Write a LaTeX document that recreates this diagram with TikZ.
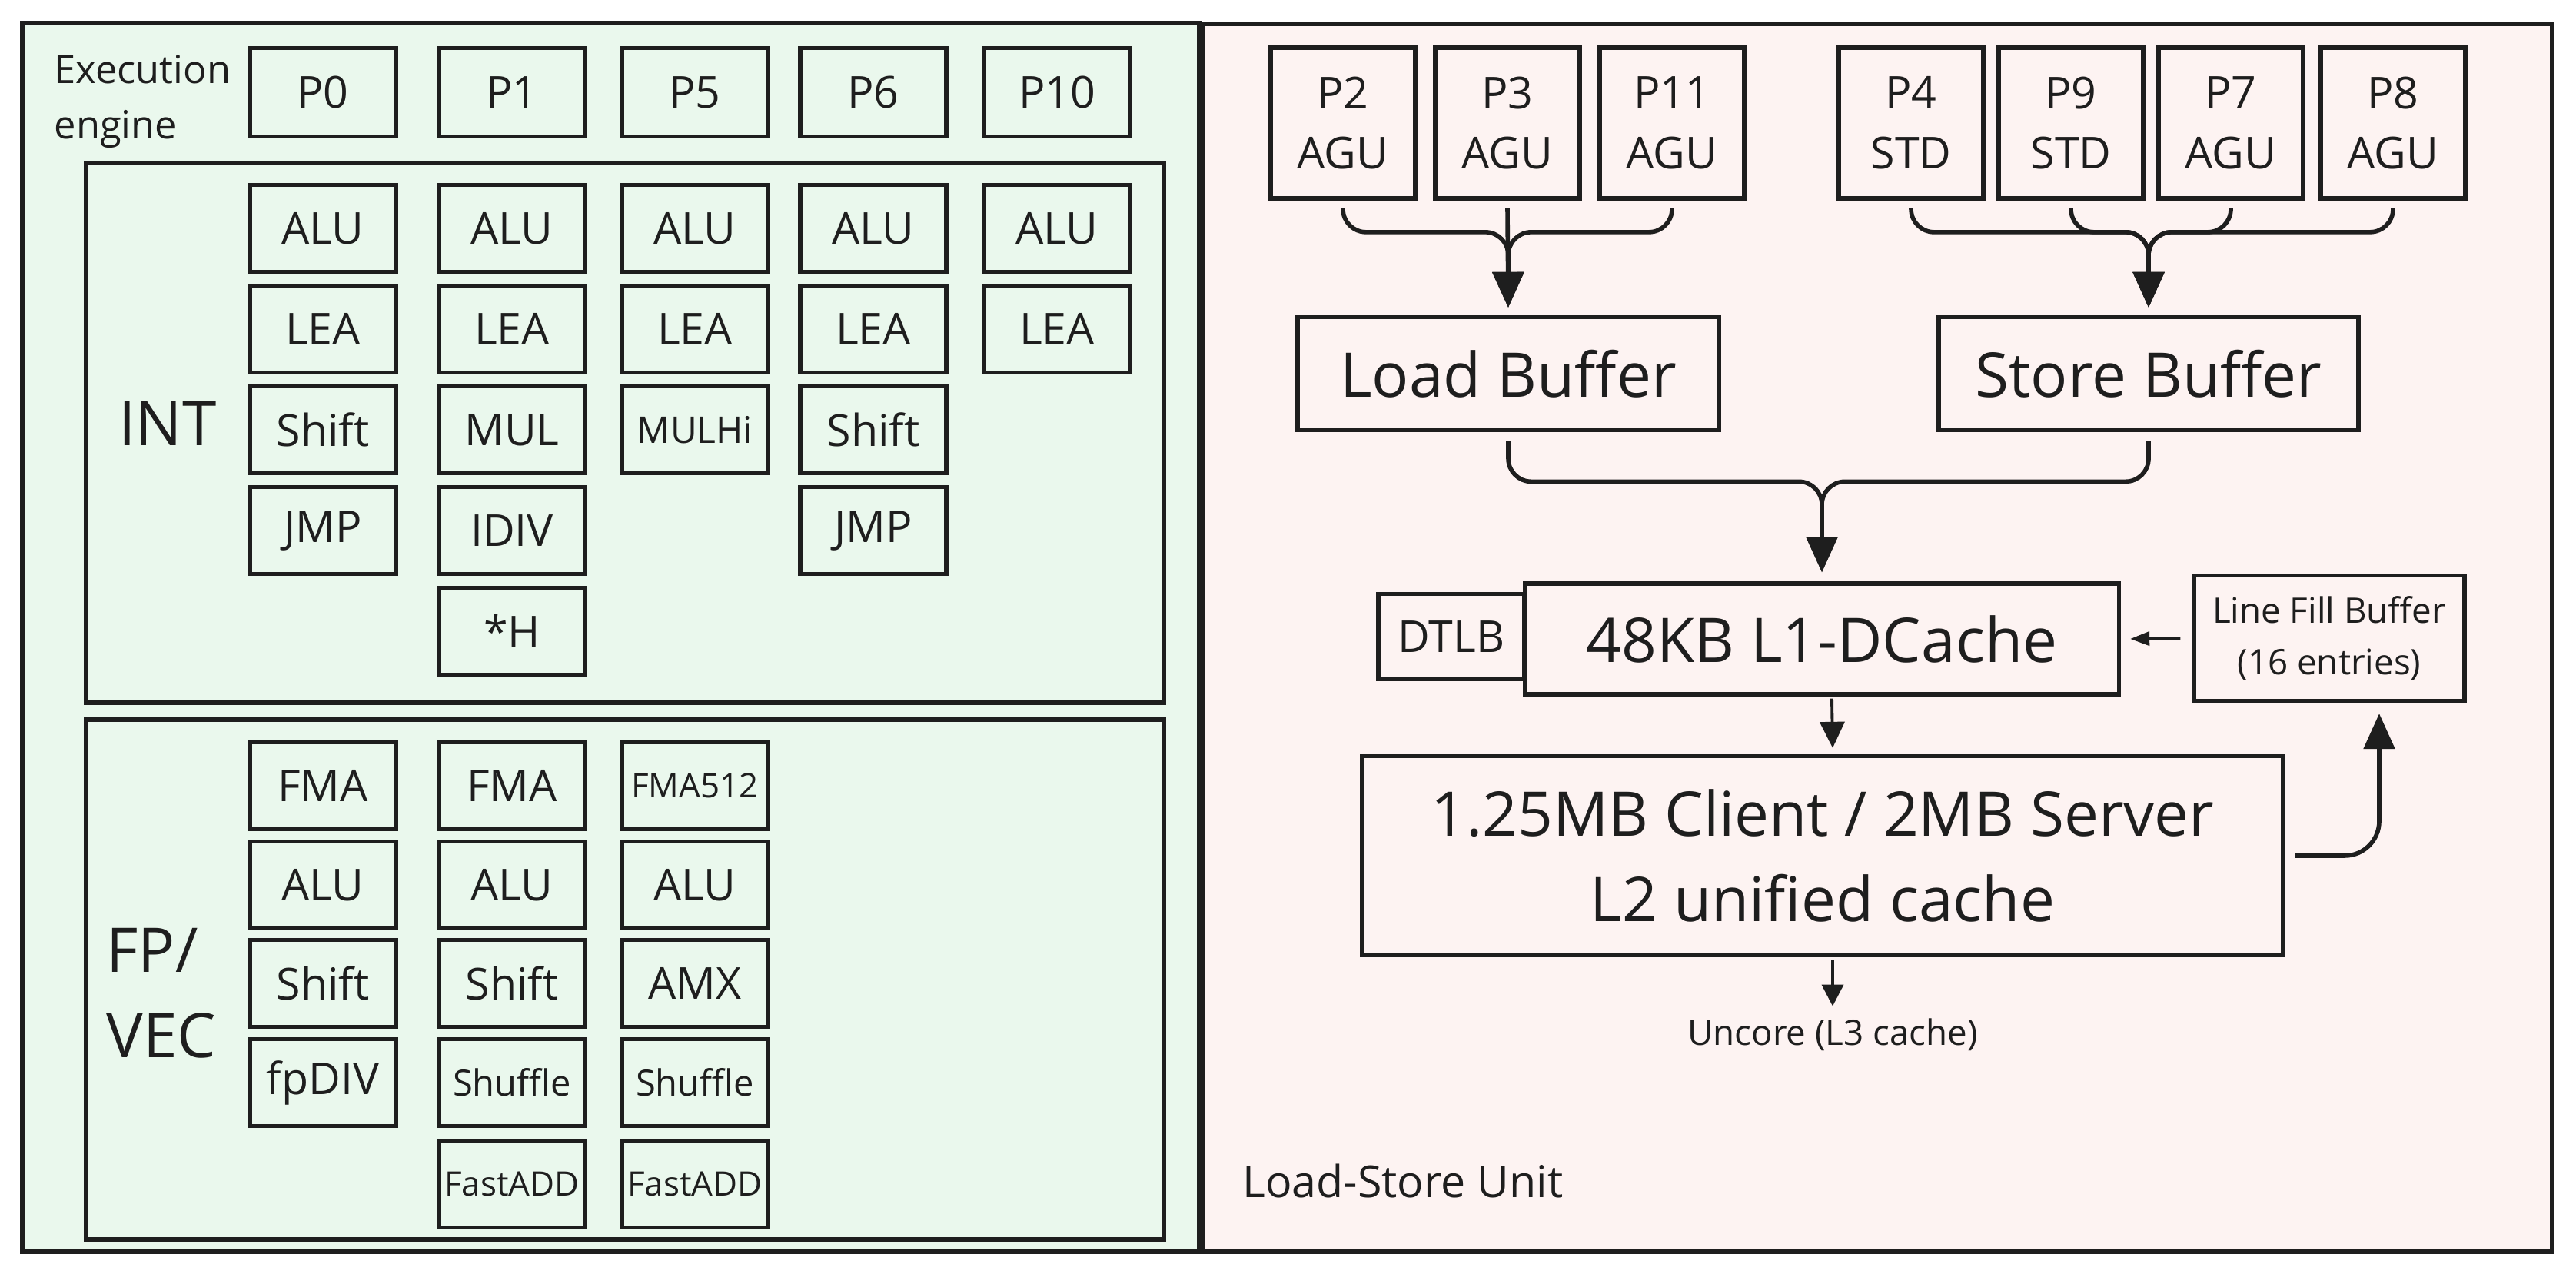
\documentclass[tikz,border=0pt]{standalone}
\usepackage{fontspec}
\setmainfont{Open Sans}
\usetikzlibrary{arrows.meta}

\definecolor{ink}{HTML}{1E1E1E}
\definecolor{enginefill}{HTML}{EAF8ED}
\definecolor{lsufill}{HTML}{FDF3F2}

\newcommand{\bigsz}{\fontsize{22.8}{31.5}\selectfont}
\newcommand{\midsz}{\fontsize{16.3}{22.4}\selectfont}
\newcommand{\labsz}{\fontsize{14.4}{20.4}\selectfont}
\newcommand{\smallsz}{\fontsize{13}{19}\selectfont}
\newcommand{\tinysz}{\fontsize{12.5}{15}\selectfont}

\tikzset{
  box/.style={draw=ink, line width=1.5pt, inner sep=0pt, text=ink, align=center},
  unit/.style={box, minimum width=1.9cm, minimum height=1.13cm, font=\midsz},
  agu/.style={box, minimum width=1.88cm, minimum height=1.96cm, font=\midsz},
  wire/.style={draw=ink, line width=1.6pt, rounded corners=0.3cm,
    -{Triangle[length=0.46cm,width=0.4cm]}},
  feed/.style={draw=ink, line width=1.1pt, -{Triangle[length=0.34cm,width=0.32cm]}}
}

\begin{document}
\begin{tikzpicture}

          \useasboundingbox (0,0) rectangle (33.51,16.57);

          % Execution engine panel
          \filldraw[fill=enginefill, draw=ink, line width=1.5pt] (0.29,0.29) rectangle (15.60,16.27);
          \node[anchor=west, align=left, inner sep=0pt, font=\labsz, text=ink] (engine) at (0.70,15.25) {Execution\\engine};

          % Ports
          \node[unit, minimum height=1.15cm] (p0) at (4.20,15.37) {P0};
          \node[unit, minimum height=1.15cm] (p1) at (6.66,15.37) {P1};
          \node[unit, minimum height=1.15cm] (p5) at (9.04,15.37) {P5};
          \node[unit, minimum height=1.15cm] (p6) at (11.36,15.37) {P6};
          \node[unit, minimum height=1.15cm] (p10) at (13.75,15.37) {P10};

          % INT cluster
          \draw[ink, line width=1.5pt] (1.12,7.43) rectangle (15.14,14.45);
          \node[font=\bigsz, text=ink] (int) at (2.18,11.06) {INT};
          \node[unit] (ialu0) at (4.20,13.60) {ALU};
          \node[unit] (ilea0) at (4.20,12.29) {LEA};
          \node[unit] (ishf0) at (4.20,10.98) {Shift};
          \node[unit] (ijmp0) at (4.20,9.67) {JMP};
          \node[unit] (ialu1) at (6.66,13.60) {ALU};
          \node[unit] (ilea1) at (6.66,12.29) {LEA};
          \node[unit] (imul1) at (6.66,10.98) {MUL};
          \node[unit] (idiv1) at (6.66,9.67) {IDIV};
          \node[unit] (ih1) at (6.66,8.36) {*H};
          \node[unit] (ialu5) at (9.04,13.60) {ALU};
          \node[unit] (ilea5) at (9.04,12.29) {LEA};
          \node[unit, font=\fontsize{13.6}{16}\selectfont] (imulhi5) at (9.04,10.98) {MULHi};
          \node[unit] (ialu6) at (11.36,13.60) {ALU};
          \node[unit] (ilea6) at (11.36,12.29) {LEA};
          \node[unit] (ishf6) at (11.36,10.98) {Shift};
          \node[unit] (ijmp6) at (11.36,9.67) {JMP};
          \node[unit] (ialu10) at (13.75,13.60) {ALU};
          \node[unit] (ilea10) at (13.75,12.29) {LEA};

          % FP/VEC cluster
          \draw[ink, line width=1.5pt] (1.12,0.45) rectangle (15.14,7.21);
          \node[anchor=west, align=left, font=\bigsz, text=ink] (fpvec) at (1.26,3.65) {FP/\\VEC};
          \node[unit] (ffma0) at (4.20,6.35) {FMA};
          \node[unit] (falu0) at (4.20,5.06) {ALU};
          \node[unit] (fshf0) at (4.20,3.78) {Shift};
          \node[unit] (fdiv0) at (4.20,2.49) {fpDIV};
          \node[unit] (ffma1) at (6.66,6.35) {FMA};
          \node[unit] (falu1) at (6.66,5.06) {ALU};
          \node[unit] (fshf1) at (6.66,3.78) {Shift};
          \node[unit, font=\fontsize{13.4}{16}\selectfont] (fshuf1) at (6.66,2.49) {Shuffle};
          \node[unit, font=\tinysz] (fadd1) at (6.66,1.17) {FastADD};
          \node[unit, font=\tinysz] (ffma5) at (9.04,6.35) {FMA512};
          \node[unit] (falu5) at (9.04,5.06) {ALU};
          \node[unit] (famx5) at (9.04,3.78) {AMX};
          \node[unit, font=\fontsize{13.4}{16}\selectfont] (fshuf5) at (9.04,2.49) {Shuffle};
          \node[unit, font=\tinysz] (fadd5) at (9.04,1.17) {FastADD};

          % Load-Store Unit panel
          \filldraw[fill=lsufill, draw=ink, line width=1.5pt] (15.65,0.29) rectangle (33.20,16.26);
          \node[anchor=west, font=\midsz, text=ink] (lsu) at (16.04,1.21) {Load-Store Unit};

          % Address and data ports
          \node[agu] (p2) at (17.47,14.97) {P2\\AGU};
          \node[agu] (p3) at (19.61,14.97) {P3\\AGU};
          \node[agu] (p11) at (21.75,14.97) {P11\\AGU};
          \node[agu] (p4) at (24.86,14.97) {P4\\STD};
          \node[agu] (p9) at (26.94,14.97) {P9\\STD};
          \node[agu] (p7) at (29.02,14.97) {P7\\AGU};
          \node[agu] (p8) at (31.13,14.97) {P8\\AGU};

          % Buffers
          \node[box, minimum width=5.48cm, minimum height=1.47cm, font=\bigsz] (lb) at (19.62,11.71) {Load Buffer};
          \node[box, minimum width=5.46cm, minimum height=1.47cm, font=\bigsz] (sb) at (27.95,11.71) {Store Buffer};

          % Caches
          \node[box, minimum width=1.90cm, minimum height=1.11cm, font=\midsz] (dtlb) at (18.88,8.29) {DTLB};
          \node[box, minimum width=7.73cm, minimum height=1.44cm, font=\bigsz] (l1) at (23.70,8.26) {48KB L1-DCache};
          \node[box, minimum width=3.52cm, minimum height=1.63cm, font=\smallsz] (lfb) at (30.30,8.27) {Line Fill Buffer\\(16 entries)};
          \node[box, minimum width=11.98cm, minimum height=2.59cm, font=\bigsz] (l2) at (23.71,5.44) {1.25MB Client / 2MB Server\\L2 unified cache};
          \node[font=\smallsz, text=ink] (l3) at (23.84,3.11) {Uncore (L3 cache)};

          % Ports into the buffers
          \draw[wire] ([yshift=-0.1cm]p2.south) |- ([yshift=1.08cm]lb.north) -- ([yshift=0.1cm]lb.north);
          \draw[wire] ([yshift=-0.1cm]p3.south) -- ([yshift=0.1cm]lb.north);
          \draw[wire] ([yshift=-0.1cm]p11.south) |- ([yshift=1.08cm]lb.north) -- ([yshift=0.1cm]lb.north);
          \draw[wire] ([yshift=-0.1cm]p4.south) |- ([yshift=1.08cm]sb.north) -- ([yshift=0.1cm]sb.north);
          \draw[wire] ([yshift=-0.1cm]p9.south) |- ([yshift=1.08cm]sb.north) -- ([yshift=0.1cm]sb.north);
          \draw[wire] ([yshift=-0.1cm]p7.south) |- ([yshift=1.08cm]sb.north) -- ([yshift=0.1cm]sb.north);
          \draw[wire] ([yshift=-0.1cm]p8.south) |- ([yshift=1.08cm]sb.north) -- ([yshift=0.1cm]sb.north);

          % Buffers into L1
          \draw[wire] ([yshift=-0.11cm]lb.south) |- ([yshift=1.30cm]l1.north) -- ([yshift=0.12cm]l1.north);
          \draw[wire] ([yshift=-0.11cm]sb.south) |- ([yshift=1.30cm]l1.north) -- ([yshift=0.12cm]l1.north);

          % Cache traffic
          \draw[feed, -{Triangle[length=0.25cm,width=0.18cm]}] ([xshift=-0.15cm]lfb.west) -- ([xshift=0.12cm]l1.east);
          \draw[feed] ([xshift=0.13cm,yshift=-0.03cm]l1.south) -- ([xshift=0.13cm,yshift=0.08cm]l2.north);
          \draw[feed, -{Triangle[length=0.28cm,width=0.28cm]}] ([xshift=0.13cm,yshift=-0.03cm]l2.south) -- ([yshift=0.04cm]l3.north);
          \draw[wire, rounded corners=0.45cm] ([xshift=0.13cm]l2.east) -| ([xshift=0.65cm,yshift=-0.14cm]lfb.south);

      \end{tikzpicture}
\end{document}
